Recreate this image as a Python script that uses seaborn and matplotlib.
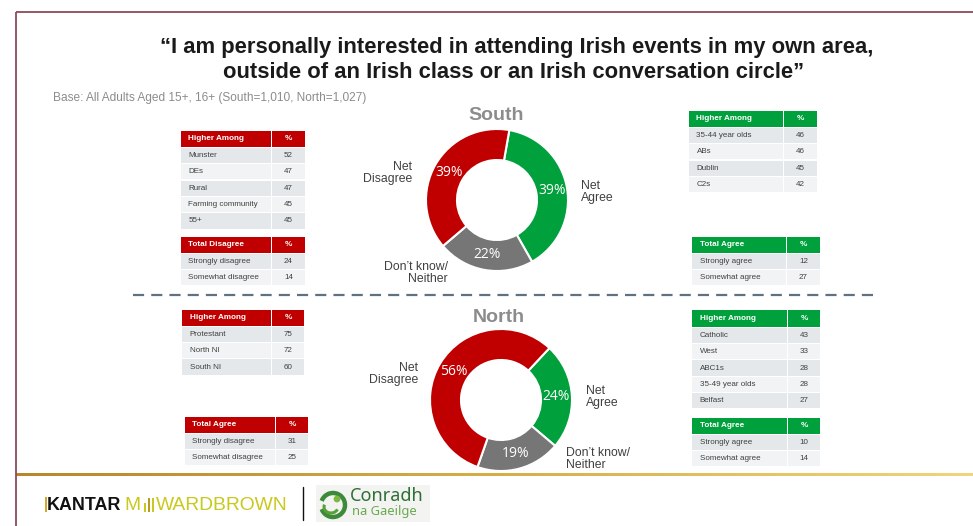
import matplotlib
matplotlib.use("Agg")
import numpy as np
import matplotlib.pyplot as plt
from matplotlib.patches import Rectangle, Arc, Circle
from matplotlib.colors import LinearSegmentedColormap
import seaborn as sns

# ---- survey results -------------------------------------------------------
donut_labels = ["Net Agree", "Don’t know/ Neither", "Net Disagree"]
south_shares = [39, 22, 39]
north_shares = [24, 19, 56]

south_disagree_groups = ["Munster", "DEs", "Rural", "Farming community", "55+"]
south_disagree_values = [52, 47, 47, 45, 45]
south_disagree_parts = ["Strongly disagree", "Somewhat disagree"]
south_disagree_part_values = [24, 14]

south_agree_groups = ["35-44 year olds", "ABs", "Dublin", "C2s"]
south_agree_values = [46, 46, 45, 42]
south_agree_parts = ["Strongly agree", "Somewhat agree"]
south_agree_part_values = [12, 27]

north_disagree_groups = ["Protestant", "North NI", "South NI"]
north_disagree_values = [75, 72, 60]
north_disagree_parts = ["Strongly disagree", "Somewhat disagree"]
north_disagree_part_values = [31, 25]

north_agree_groups = ["Catholic", "West", "ABC1s", "35-49 year olds", "Belfast"]
north_agree_values = [43, 33, 28, 28, 27]
north_agree_parts = ["Strongly agree", "Somewhat agree"]
north_agree_part_values = [10, 14]

title_lines = ["“I am personally interested in attending Irish events in my own area,",
               "outside of an Irish class or an Irish conversation circle”"]
base_note = "Base: All Adults Aged 15+, 16+ (South=1,010, North=1,027)"

# ---- styling ----------------------------------------------------------------
sns.set_theme(style="white")
plt.rcParams["font.family"] = ["Liberation Sans", "DejaVu Sans"]

RED, GREEN, GREY = "#C00000", "#00A03C", "#767676"
palette = sns.color_palette([GREEN, GREY, RED])
TXT = "#404040"

W, H = 973, 526
fig = plt.figure(figsize=(W / 100, H / 100), dpi=100)
ax = fig.add_axes([0, 0, 1, 1])
ax.axis("off")

# gold footer rule, shaded left to right
gold = LinearSegmentedColormap.from_list("gold", ["#B8872A", "#D6AE48", "#EFD57C"])
ax.imshow(np.linspace(0, 1, 256)[None, :], cmap=gold, aspect="auto",
          extent=[16, W, 476.4, 473.6], interpolation="bilinear")
ax.set_xlim(0, W)
ax.set_ylim(H, 0)

# slide frame
ax.plot([16, W], [12, 12], color="#8E4A5A", lw=1.3, solid_capstyle="butt")
ax.plot([16, 16], [12, H], color="#8E4A5A", lw=1.3, solid_capstyle="butt")

# titles
ax.text(517, 47, title_lines[0], ha="center", va="center", fontsize=15.8,
        weight="bold", color="#1a1a1a")
ax.text(514, 73, title_lines[1], ha="center", va="center", fontsize=15.8,
        weight="bold", color="#1a1a1a")
ax.text(53, 98, base_note, ha="left", va="center", fontsize=8.6, color="#8c8c8c")


# ---- donuts -----------------------------------------------------------------
def donut(cx, cy, shares, start):
    R, hole, half = 71, 40, 80
    dax = fig.add_axes([(cx - half) / W, (H - cy - half) / H, 2 * half / W, 2 * half / H])
    wedges, _ = dax.pie(shares, colors=palette, radius=R, startangle=start,
                        counterclock=False,
                        wedgeprops=dict(width=R - hole, edgecolor="white", linewidth=1.5))
    rmid = (R + hole) / 2
    for w, v in zip(wedges, shares):
        ang = np.deg2rad((w.theta1 + w.theta2) / 2)
        dax.text(rmid * np.cos(ang), rmid * np.sin(ang), f"{v}%", ha="center",
                 va="center", color="white", fontsize=10, family=["Open Sans", "DejaVu Sans"])
    dax.set_xlim(-half, half)
    dax.set_ylim(-half, half)
    dax.set_aspect("equal")
    dax.axis("off")


donut(497, 200, south_shares, 80)
donut(501, 400, north_shares, 47)

ax.text(496, 115, "South", ha="center", va="center", fontsize=14, weight="bold", color="#8c8c8c")
ax.text(499, 317, "North", ha="center", va="center", fontsize=14, weight="bold", color="#8c8c8c")


def two_line(x, y, text, ha):
    if "/" in text:
        text = text.replace("/ ", "/\n")
    else:
        text = text.replace(" ", "\n", 1)
    ax.text(x, y, text, ha=ha, va="center", fontsize=8.8, color=TXT, linespacing=1.08)


two_line(412, 173, donut_labels[2], "right")
two_line(581, 192, donut_labels[0], "left")
two_line(448, 273, donut_labels[1], "right")
two_line(418, 374, donut_labels[2], "right")
two_line(586, 397, donut_labels[0], "left")
two_line(566, 459, donut_labels[1], "left")

# divider between the two regions
ax.plot([133, 873], [295, 295], color="#5E7283", lw=1.6, dashes=(5, 3.2))


# ---- tables -----------------------------------------------------------------
def table(x0, split, x1, y0, header, labels, values, color, head_h=15.5, row_h=16.4):
    gap = 1.2
    ax.add_patch(Rectangle((x0, y0), split - x0 - gap, head_h, color=color, lw=0))
    ax.add_patch(Rectangle((split, y0), x1 - split, head_h, color=color, lw=0))
    ax.text(x0 + 7.5, y0 + head_h / 2, header, ha="left", va="center", fontsize=5.9,
            weight="bold", color="white")
    ax.text((split + x1) / 2, y0 + head_h / 2, "%", ha="center", va="center",
            fontsize=5.9, weight="bold", color="white")
    y = y0 + head_h + gap
    for i, (lab, val) in enumerate(zip(labels, values)):
        bg = "#E4E8EA" if i % 2 == 0 else "#F1F3F4"
        ax.add_patch(Rectangle((x0, y), split - x0 - gap, row_h - gap, color=bg, lw=0))
        ax.add_patch(Rectangle((split, y), x1 - split, row_h - gap, color=bg, lw=0))
        ax.text(x0 + 7.5, y + (row_h - gap) / 2, lab, ha="left", va="center",
                fontsize=5.8, color=TXT)
        ax.text((split + x1) / 2, y + (row_h - gap) / 2, f"{val}", ha="center",
                va="center", fontsize=5.8, color=TXT)
        y += row_h


table(181, 272, 305, 131, "Higher Among", south_disagree_groups, south_disagree_values, RED)
table(181, 272, 305, 237, "Total Disagree", south_disagree_parts, south_disagree_part_values, RED)
table(689, 784, 817, 111, "Higher Among", south_agree_groups, south_agree_values, GREEN)
table(692, 787, 820, 237, "Total Agree", south_agree_parts, south_agree_part_values, GREEN)
table(182, 272, 304, 310, "Higher Among", north_disagree_groups, north_disagree_values, RED)
table(185, 276, 308, 417, "Total Agree", north_disagree_parts, north_disagree_part_values, RED)
table(692, 788, 820, 310, "Higher Among", north_agree_groups, north_agree_values, GREEN, head_h=16.5)
table(692, 788, 820, 418, "Total Agree", north_agree_parts, north_agree_part_values, GREEN)

# ---- footer logos -----------------------------------------------------------
YEL = "#C9C81C"
ax.add_patch(Rectangle((45, 497), 2, 15, color="#D4A62A", lw=0))
ax.text(47, 505, "KANTAR", ha="left", va="center", fontsize=12.9, weight="bold", color="#111111")
ax.text(124, 505, "M", ha="left", va="center", fontsize=13.8, color=YEL)
ax.add_patch(Rectangle((143.5, 503), 2.2, 9, color=YEL, lw=0))
ax.add_patch(Rectangle((147.5, 498), 2.2, 14, color="#B89A20", lw=0))
ax.add_patch(Rectangle((151.5, 498), 2.2, 14, color=YEL, lw=0))
ax.text(156, 505, "WARDBROWN", ha="left", va="center", fontsize=13.9, color=YEL)

ax.plot([303, 303], [487, 520], color="#111111", lw=1.0)

ax.add_patch(Rectangle((316, 485), 114, 37, color="#F3F4F2", lw=0))
ax.add_patch(Arc((333, 505), 24, 24, theta1=200, theta2=520, color="#3C8A3A", lw=3.2))
ax.add_patch(Circle((337, 499), 3.4, color="#7DB843", lw=0))
ax.add_patch(Arc((331, 507), 14, 12, theta1=20, theta2=200, color="#5AA03A", lw=2.2))
ax.text(350, 496, "Conradh", ha="left", va="center", fontsize=13, weight="bold",
        color="#2F6E35", family=["Noto Sans", "DejaVu Sans"])
ax.text(352, 512, "na Gaeilge", ha="left", va="center", fontsize=9.3,
        color="#6AA84F", family=["Noto Sans", "DejaVu Sans"])

fig.savefig("out.png", dpi=100)
